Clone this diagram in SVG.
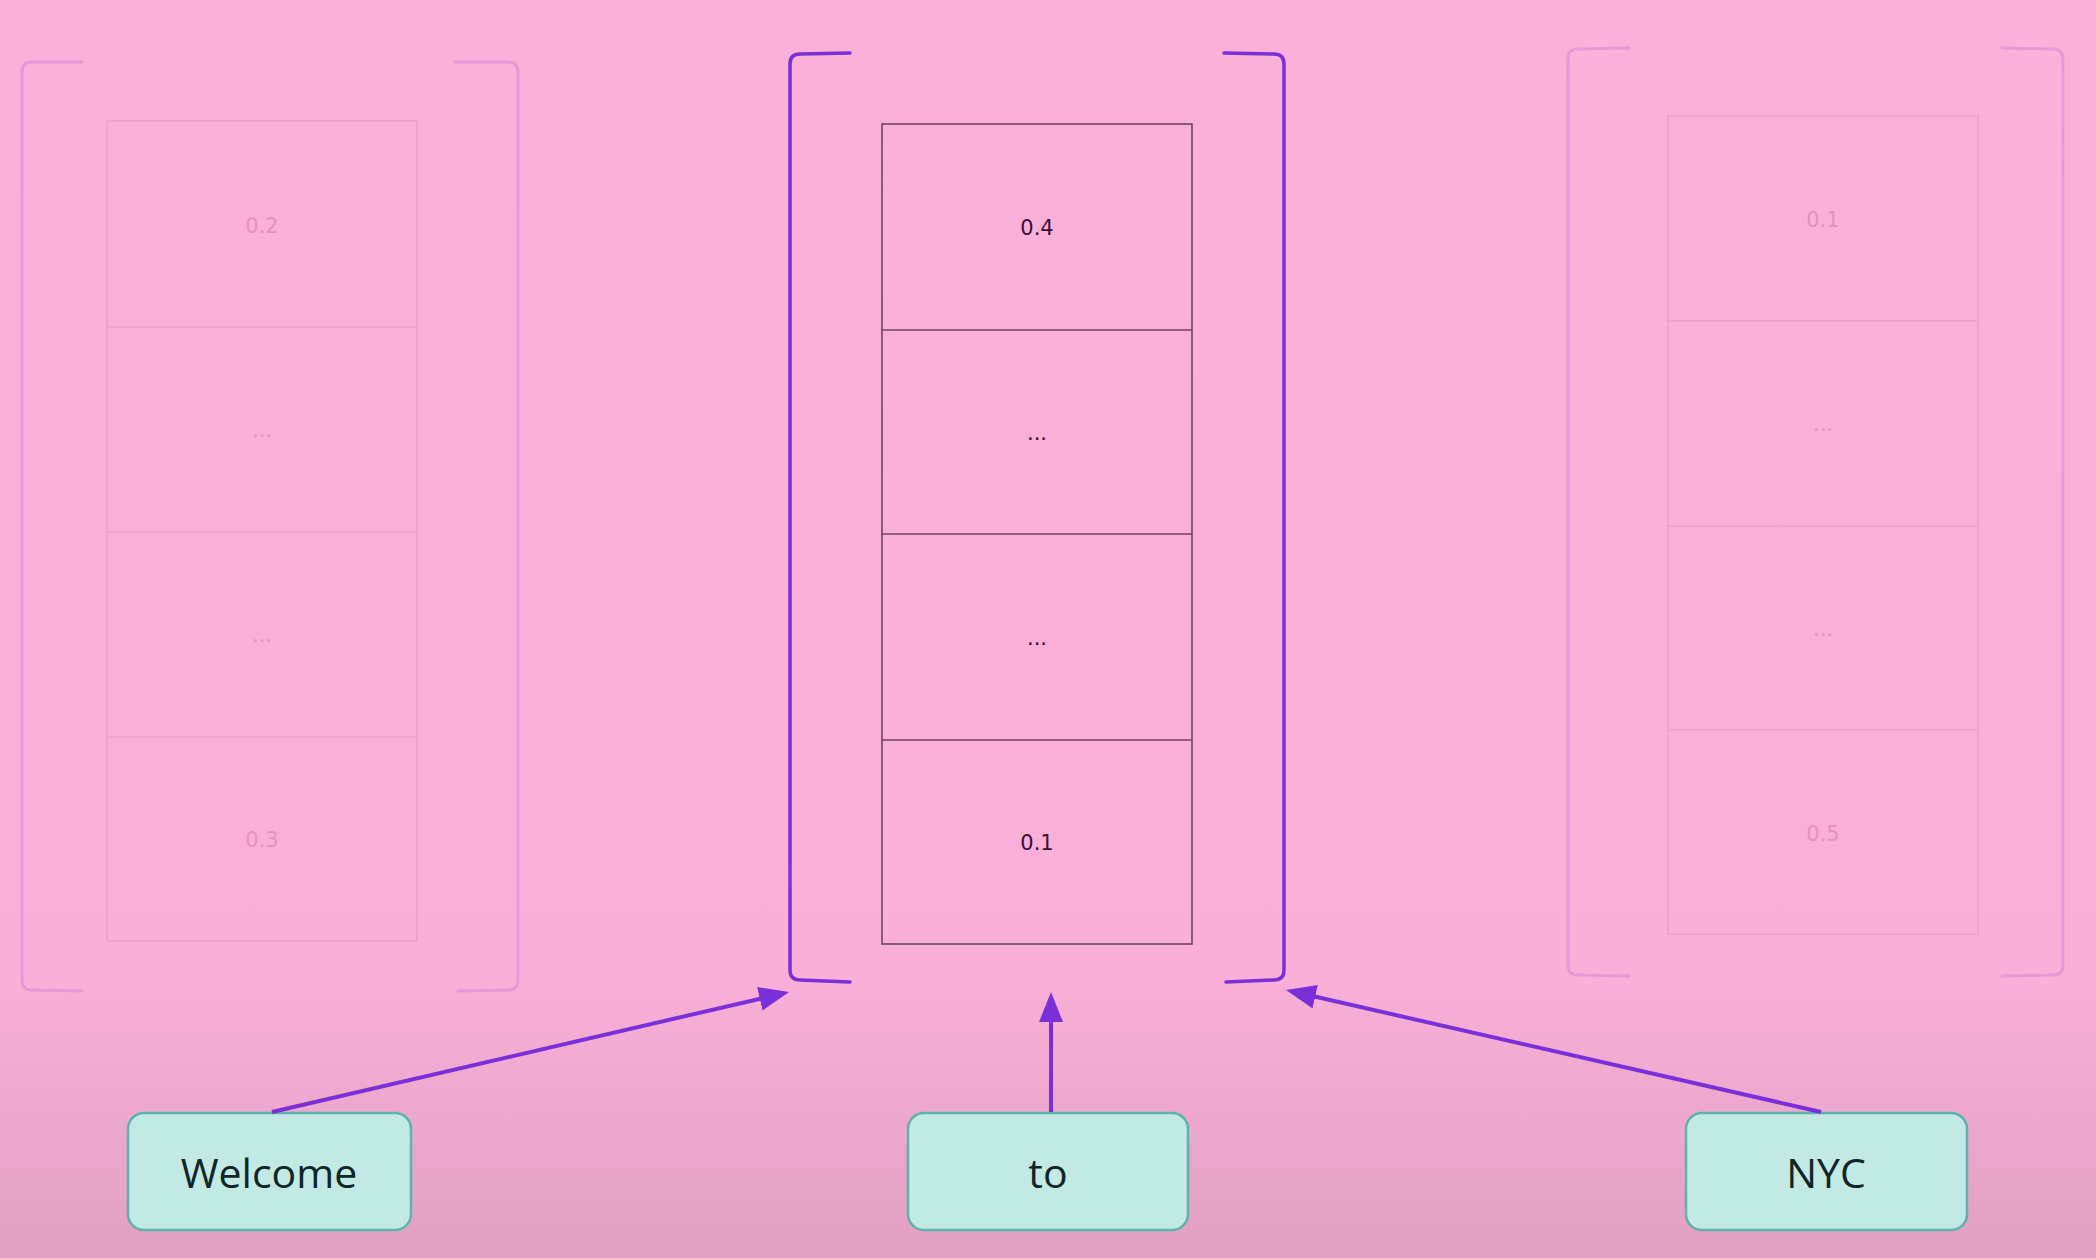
<svg xmlns="http://www.w3.org/2000/svg" width="2096" height="1258" viewBox="0 0 2096 1258">
<defs>
<linearGradient id="bg" x1="0" y1="0" x2="0" y2="1">
<stop offset="0" stop-color="#fbb0d9"/>
<stop offset="0.78" stop-color="#f9afd7"/>
<stop offset="1" stop-color="#e0a0c2"/>
</linearGradient>
<marker id="ah" markerUnits="userSpaceOnUse" markerWidth="32" markerHeight="26" refX="4" refY="12" orient="auto">
<path d="M0,0 L30,12 L0,24 Z" fill="#7b2fd8"/>
</marker>
<style>
.brk{fill:none;stroke:#7b2fd8;stroke-width:3.5;stroke-linecap:round}
.brkf{fill:none;stroke:#e59ad6;stroke-width:3;stroke-linecap:round}
.cell{fill:none;stroke:#6e4560;stroke-width:1.6}
.cellf{fill:none;stroke:#ef9fcd;stroke-width:1.6}
.val{font-family:"DejaVu Sans",sans-serif;font-size:21px;fill:#3e0d36;text-anchor:middle}
.valf{font-family:"DejaVu Sans",sans-serif;font-size:21px;fill:#e690c2;text-anchor:middle}
.tok{fill:#c3e9e5;stroke:#5db3ac;stroke-width:2.5}
.tokt{font-family:"Open Sans",sans-serif;font-size:41px;fill:#0f2626;text-anchor:middle}
.conn{stroke:#7b2fd8;stroke-width:4;fill:none}
</style>
</defs>
<rect width="2096" height="1258" fill="url(#bg)"/>

<g id="vec-welcome">
<path class="brkf" d="M82,62 L32,62 Q22,62 22,72 L22,980 Q22,990 32,990 L82,991"/>
<path class="brkf" d="M455,62 L508,62 Q518,62 518,72 L518,980 Q518,990 508,990 L458,991"/>
<rect class="cellf" x="107" y="121" width="310" height="820"/>
<line class="cellf" x1="107" y1="327" x2="417" y2="327"/>
<line class="cellf" x1="107" y1="532" x2="417" y2="532"/>
<line class="cellf" x1="107" y1="737" x2="417" y2="737"/>
<text class="valf" x="262" y="233">0.2</text>
<text class="valf" x="262" y="437">...</text>
<text class="valf" x="262" y="642">...</text>
<text class="valf" x="262" y="847">0.3</text>
</g>

<g id="vec-to">
<path class="brk" d="M850,53 L800,54 Q790,54 790,64 L790,970 Q790,980 800,980 L850,982"/>
<path class="brk" d="M1224,53 L1274,54 Q1284,54 1284,64 L1284,970 Q1284,980 1274,980 L1226,982"/>
<rect class="cell" x="882" y="124" width="310" height="820"/>
<line class="cell" x1="882" y1="330" x2="1192" y2="330"/>
<line class="cell" x1="882" y1="534" x2="1192" y2="534"/>
<line class="cell" x1="882" y1="740" x2="1192" y2="740"/>
<text class="val" x="1037" y="235">0.4</text>
<text class="val" x="1037" y="440">...</text>
<text class="val" x="1037" y="645">...</text>
<text class="val" x="1037" y="850">0.1</text>
</g>

<g id="vec-nyc">
<path class="brkf" d="M1629,48 L1578,49 Q1568,49 1568,59 L1568,965 Q1568,975 1578,975 L1629,976"/>
<path class="brkf" d="M2002,48 L2053,49 Q2063,49 2063,59 L2063,965 Q2063,975 2053,975 L2002,976"/>
<rect class="cellf" x="1668" y="116" width="310" height="818"/>
<line class="cellf" x1="1668" y1="321" x2="1978" y2="321"/>
<line class="cellf" x1="1668" y1="526" x2="1978" y2="526"/>
<line class="cellf" x1="1668" y1="730" x2="1978" y2="730"/>
<text class="valf" x="1823" y="227">0.1</text>
<text class="valf" x="1823" y="431">...</text>
<text class="valf" x="1823" y="636">...</text>
<text class="valf" x="1823" y="841">0.5</text>
</g>

<g id="tok-welcome">
<rect class="tok" x="128" y="1113" width="283" height="117" rx="16"/>
<text class="tokt" x="269" y="1188">Welcome</text>
</g>
<g id="tok-to">
<rect class="tok" x="908" y="1113" width="280" height="117" rx="16"/>
<text class="tokt" x="1048" y="1188">to</text>
</g>
<g id="tok-nyc">
<rect class="tok" x="1686" y="1113" width="281" height="117" rx="16"/>
<text class="tokt" x="1826" y="1188">NYC</text>
</g>

<g id="connectors">
<line class="conn" x1="272" y1="1112" x2="763.7" y2="997.9" marker-end="url(#ah)"/>
<line class="conn" x1="1051" y1="1112" x2="1051" y2="1018" marker-end="url(#ah)"/>
<line class="conn" x1="1821" y1="1112" x2="1311.3" y2="995.8" marker-end="url(#ah)"/>
</g>
</svg>
